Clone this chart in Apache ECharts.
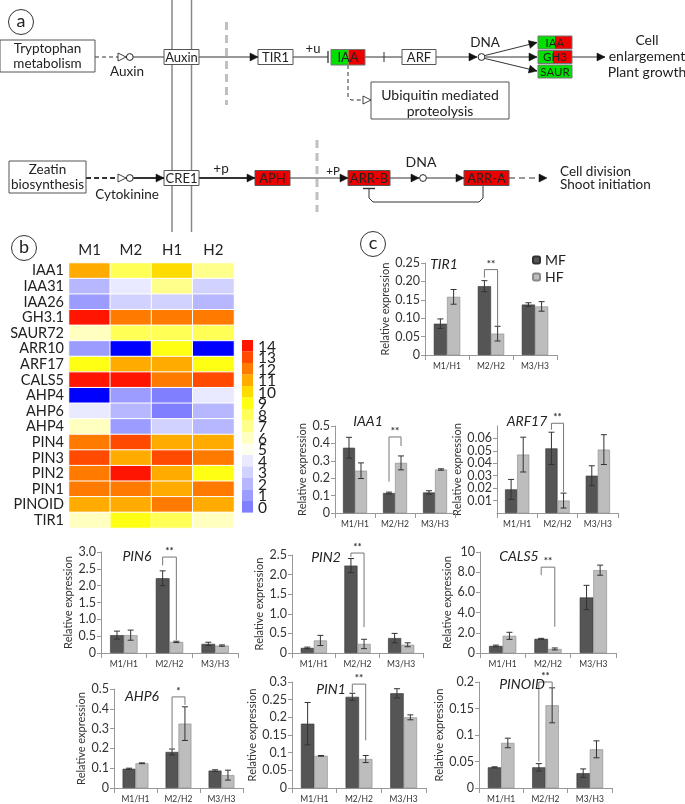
<!DOCTYPE html>
<html><head><meta charset="utf-8">
<script src="https://cdn.jsdelivr.net/npm/echarts@6/dist/echarts.min.js"></script>
<style>html,body{margin:0;padding:0;background:#fff}#c{width:685px;height:804px}</style>
</head><body><div id="c"></div>
<script>
// ---------- DATA ----------
const hmCols = ['M1','M2','H1','H2'];
const hmRows = ['IAA1','IAA31','IAA26','GH3.1','SAUR72','ARR10','ARF17','CALS5','AHP4','AHP6','AHP4','PIN4','PIN3','PIN2','PIN1','PINOID','TIR1'];
// value per row for M1, M2, H1, H2 (-1 = below scale, shown blue)
const hmIAA1   = [11, 8, 10, 7];
const hmIAA31  = [2, 4, 7, 3];
const hmIAA26  = [1, 3, 3, 2];
const hmGH31   = [14, 12, 12, 12];
const hmSAUR72 = [6, 8, 8, 8];
const hmARR10  = [1, -1, 9, -1];
const hmARF17  = [9, 11, 11, 9];
const hmCALS5  = [14, 14, 12, 13];
const hmAHP4a  = [-1, 1, 0, 4];
const hmAHP6   = [4, 2, 0, 2];
const hmAHP4b  = [6, 1, 3, 2];
const hmPIN4   = [12, 13, 11, 11];
const hmPIN3   = [13, 11, 13, 12];
const hmPIN2   = [12, 14, 11, 9];
const hmPIN1   = [12, 12, 11, 12];
const hmPINOID = [11, 11, 12, 11];
const hmTIR1   = [6, 9, 8, 6];
const hmValues = [hmIAA1,hmIAA31,hmIAA26,hmGH31,hmSAUR72,hmARR10,hmARF17,hmCALS5,hmAHP4a,hmAHP6,hmAHP4b,hmPIN4,hmPIN3,hmPIN2,hmPIN1,hmPINOID,hmTIR1];
const scaleLabels = ['14','13','12','11','10','9','8','7','6','5','4','3','2','1','0'];

const groups = ['M1/H1','M2/H2','M3/H3'];
const tir1MF=[0.085,0.187,0.137], tir1MFErr=[0.013,0.015,0.005], tir1HF=[0.158,0.058,0.132], tir1HFErr=[0.02,0.02,0.013];
const tir1Sig=[1,0.21,0.078,0.232], tir1Stars='**';
const iaa1MF=[0.375,0.115,0.118], iaa1MFErr=[0.06,0.005,0.01], iaa1HF=[0.243,0.288,0.25], iaa1HFErr=[0.045,0.04,0.004];
const iaa1Sig=[1,0.18,0.385,0.437], iaa1Stars='**';
const arf17MF=[0.019,0.052,0.030], arf17MFErr=[0.008,0.013,0.008], arf17HF=[0.047,0.010,0.051], arf17HFErr=[0.014,0.006,0.012];
const arf17Sig=[1,0.067,0.017,0.0722], arf17Stars='**';
const pin6MF=[0.53,2.22,0.27], pin6MFErr=[0.12,0.22,0.05], pin6HF=[0.53,0.33,0.22], pin6HFErr=[0.15,0.02,0.02];
const pin6Sig=[1,2.6,0.38,2.85], pin6Stars='**';
const pin2MF=[0.13,2.23,0.38], pin2MFErr=[0.02,0.18,0.12], pin2HF=[0.32,0.23,0.21], pin2HFErr=[0.13,0.12,0.05];
const pin2Sig=[1,2.45,0.66,2.55], pin2Stars='**';
const cals5MF=[0.7,1.4,5.5], cals5MFErr=[0.08,0.05,1.2], cals5HF=[1.7,0.4,8.2], cals5HFErr=[0.35,0.1,0.5];
const cals5Sig=[1,7.7,2.6,8.5], cals5Stars='**';
const ahp6MF=[0.097,0.182,0.088], ahp6MFErr=[0.003,0.015,0.004], ahp6HF=[0.125,0.325,0.065], ahp6HFErr=[0.002,0.085,0.025];
const ahp6Sig=[1,0.2,0.42,0.46], ahp6Stars='*';
const pin1MF=[0.182,0.258,0.268], pin1MFErr=[0.06,0.01,0.013], pin1HF=[0.091,0.082,0.200], pin1HFErr=[0.001,0.01,0.007];
const pin1Sig=[1,0.27,0.135,0.294], pin1Stars='**';
const pinoidMF=[0.039,0.039,0.028], pinoidMFErr=[0.001,0.007,0.008], pinoidHF=[0.085,0.156,0.073], pinoidHFErr=[0.009,0.033,0.016];
const pinoidSig=[1,0.05,0.19,0.2], pinoidStars='**';

// ---------- LAYOUT / STYLE ----------
const FONT = 'Lato, "Open Sans", sans-serif';
const scaleColors = ['#ff1500','#ff4a00','#ff7b00','#ffab00','#ffdc00','#ffff14','#ffff55','#ffff8c','#ffffc0','#fffff0','#e9e9ff','#d2d2ff','#b7b7ff','#9c9cff','#7f7fff'];

const charts = [
  {t:'TIR1', mf:tir1MF, mfe:tir1MFErr, hf:tir1HF, hfe:tir1HFErr, sig:tir1Sig, st:tir1Stars, max:0.25, iv:0.05, fmt:'f2', box:[425,263,132,92], tp:[444,264]},
  {t:'IAA1', mf:iaa1MF, mfe:iaa1MFErr, hf:iaa1HF, hfe:iaa1HFErr, sig:iaa1Sig, st:iaa1Stars, max:0.5, iv:0.1, fmt:'f1', box:[335,426,120,87], tp:[368,421]},
  {t:'ARF17', mf:arf17MF, mfe:arf17MFErr, hf:arf17HF, hfe:arf17HFErr, sig:arf17Sig, st:arf17Stars, max:0.07, iv:0.01, fmt:'f2', box:[497,426,121,87], tp:[527,421]},
  {t:'PIN6', mf:pin6MF, mfe:pin6MFErr, hf:pin6HF, hfe:pin6HFErr, sig:pin6Sig, st:pin6Stars, max:3, iv:0.5, fmt:'f1', box:[101,552,137,101], tp:[137,556]},
  {t:'PIN2', mf:pin2MF, mfe:pin2MFErr, hf:pin2HF, hfe:pin2HFErr, sig:pin2Sig, st:pin2Stars, max:2.5, iv:0.5, fmt:'f1', box:[292,555,131,98], tp:[326,557]},
  {t:'CALS5', mf:cals5MF, mfe:cals5MFErr, hf:cals5HF, hfe:cals5HFErr, sig:cals5Sig, st:cals5Stars, max:10, iv:2, fmt:'c', box:[480,552,136,101], tp:[519,556]},
  {t:'AHP6', mf:ahp6MF, mfe:ahp6MFErr, hf:ahp6HF, hfe:ahp6HFErr, sig:ahp6Sig, st:ahp6Stars, max:0.5, iv:0.1, fmt:'f1', box:[114,689,129,99], tp:[142,696]},
  {t:'PIN1', mf:pin1MF, mfe:pin1MFErr, hf:pin1HF, hfe:pin1HFErr, sig:pin1Sig, st:pin1Stars, max:0.3, iv:0.05, fmt:'trim', box:[292,682,134,106], tp:[331,689]},
  {t:'PINOID', mf:pinoidMF, mfe:pinoidMFErr, hf:pinoidHF, hfe:pinoidHFErr, sig:pinoidSig, st:pinoidStars, max:0.2, iv:0.05, fmt:'trim', box:[479,682,133,106], tp:[522,684]}
];
function fmtFn(kind){
  return function(v){
    if (Math.abs(v) < 1e-9) return '0';
    if (kind==='f2') return v.toFixed(2);
    if (kind==='f1') return v.toFixed(1);
    if (kind==='c') return Math.abs(v-10)<1e-9 ? '10' : v.toFixed(1);
    return String(parseFloat(v.toFixed(3)));
  };
}

// ---------- GRAPHIC (panel a diagram, panel letters, titles, colour key) ----------
const G = [];
const INK = '#222';
function txt(x,y,t,size,align,extra){
  G.push({type:'text', x:x, y:y, z:10, silent:true, style:Object.assign({text:t, font:(size||13)+'px '+FONT, fill:INK, align:align||'center', verticalAlign:'middle', textAlign:align||'center', textVerticalAlign:'middle'}, extra||{})});
}
function box(x,y,w,h,fill,label,size){
  G.push({type:'rect', z:5, silent:true, shape:{x:x,y:y,width:w,height:h}, style:{fill:fill||'#fff', stroke:'#555', lineWidth:1}});
  if(label) txt(x+w/2, y+h/2+0.5, label, size||13);
}
function splitBox(x,y,w,h,split,label,size){
  G.push({type:'rect', z:5, silent:true, shape:{x:x,y:y,width:split,height:h}, style:{fill:'#00e000', stroke:null}});
  G.push({type:'rect', z:5, silent:true, shape:{x:x+split,y:y,width:w-split,height:h}, style:{fill:'#ee0000', stroke:null}});
  G.push({type:'rect', z:6, silent:true, shape:{x:x,y:y,width:w,height:h}, style:{fill:null, stroke:'#777', lineWidth:1}});
  if(label) txt(x+w/2, y+h/2+0.5, label, size||13);
}
function line(pts,w,dash,color){
  G.push({type:'polyline', z:4, silent:true, shape:{points:pts}, style:{stroke:color||'#333', lineWidth:w||1, lineDash:dash||null, fill:null}});
}
function head(x1,y1,x2,y2,open){
  const a = Math.atan2(y2-y1,x2-x1), L=8, W=4;
  const bx = x2-L*Math.cos(a), by = y2-L*Math.sin(a);
  const p1=[bx+W*Math.sin(a), by-W*Math.cos(a)], p2=[bx-W*Math.sin(a), by+W*Math.cos(a)];
  G.push({type:'polygon', z:6, silent:true, shape:{points:[p1,[x2,y2],p2]}, style:{fill:open?'#fff':'#111', stroke:'#111', lineWidth:open?0.8:0.5}});
}
function arrow(x1,y1,x2,y2,w,dash){ line([[x1,y1],[x2,y2]],w,dash); head(x1,y1,x2,y2,false); }
function circ(cx,cy,r,fill,stroke,lw){ G.push({type:'circle', z:6, silent:true, shape:{cx:cx,cy:cy,r:r}, style:{fill:fill||'#fff', stroke:stroke||'#222', lineWidth:lw||1}}); }

// membrane double line
line([[172,0],[172,232]],1.5,null,'#888');
line([[191.5,0],[191.5,232]],1.5,null,'#888');
// gray dashed separators
line([[226.5,22],[226.5,105]],3,[8,5],'#c0c0c0');
line([[317,140],[317,212]],3,[8,5],'#c0c0c0');
// panel letter a
circ(21,22,12.5,'#fff','#333',1); txt(21,21,'a',18);

// ---- row 1 (auxin) ----
const r1 = 57;
box(0,40,95,32,'#fff'); txt(47.5,49,'Tryptophan',13.5); txt(47.5,64,'metabolism',13.5);
line([[95,r1],[119,r1]],1,[4,3]); head(119,r1,126,r1,true); circ(129.8,r1,3.4);
line([[133.2,r1],[164,r1]],1);
txt(127,72,'Auxin',13.5);
box(164,49.5,35,15,'#fff','Auxin',13);
arrow(199,r1,258,r1,1);
box(258,49.5,35,15,'#fff','TIR1',13);
line([[293,r1],[328,r1]],1); line([[328,51],[328,63]],1.3);
txt(313,49,'+u',13);
splitBox(331,49.5,34,15.5,17.5,'IAA',13);
line([[365,r1],[402,r1]],1); line([[384,52],[384,62]],1);
box(402,49.5,34,15,'#fff','ARF',13);
arrow(436,r1,477,r1,1); circ(481.5,r1,3.4);
txt(485,43,'DNA',13.5);
arrow(485,r1-1.5,537,42.5,1); arrow(485.5,r1,537,r1,1); arrow(485,r1+1.5,537,71,1);
splitBox(538,36,34,13,17,'IAA',11.5);
splitBox(538,50.5,34,13,15,'GH3',11.5);
splitBox(538,65,34,13,34,'SAUR',11.5);
arrow(572,r1,605,r1,1);
txt(647,40,'Cell',14); txt(647,56,'enlargement',14); txt(647,72,'Plant growth',14);
line([[348,65],[348,97],[351,100],[364,100]],1,[4,3]); head(356,100,371,100,true);
box(371,82,138,37,'#fff'); txt(440,95,'Ubiquitin mediated',14); txt(440,111,'proteolysis',14);

// ---- row 2 (cytokinin) ----
const r2 = 178;
box(9,161,77,32,'#fff'); txt(47.5,170,'Zeatin',13.5); txt(47.5,185,'biosynthesis',13.5);
line([[86,r2],[119,r2]],2,[5,3]); head(119,r2,126,r2,true); circ(129.8,r2,3.4);
arrow(133.2,r2,164,r2,2);
txt(127,195,'Cytokinine',13.5);
box(164,170.5,35,15,'#fff','CRE1',13);
arrow(199,r2,255,r2,2);
txt(221,169,'+p',13.5);
box(255,170.5,35,15,'#ee0000','APH',13);
arrow(290,r2,348,r2,1);
txt(333,171,'+P',11.5);
box(348,170.5,42,15,'#ee0000','ARR-B',13);
arrow(390,r2,419,r2,1); circ(423,r2,3.4);
txt(421,162,'DNA',14);
arrow(426.5,r2,464,r2,1);
box(464,170.5,45,15,'#ee0000','ARR-A',13);
arrow(509,r2,547,r2,1,[6,4]);
txt(560,172,'Cell division',13.5,'left'); txt(560,185,'Shoot initiation',13.5,'left');
line([[483,186],[483,198],[479,202],[373,202],[369,198],[369,189]],1);
line([[363,188.5],[375,188.5]],1.4);

// panel letters b, c
circ(24,248,12.5,'#fff','#333',1); txt(24,247,'b',18);
circ(373,244,12.5,'#fff','#333',1); txt(373,243,'c',18);

// colour key for the heatmap
scaleLabels.forEach((l,i)=>{
  G.push({type:'rect', z:5, silent:true, shape:{x:242,y:340+i*11.5,width:11,height:11.6}, style:{fill:scaleColors[i], stroke:null}});
  txt(258,340+i*11.5+6.5,l,15.5,'left');
});

// chart titles
charts.forEach(c=>txt(c.tp[0],c.tp[1],c.t,14,'center',{font:'italic 14px '+FONT}));

// ---------- OPTION ----------
const grid=[], xAxis=[], yAxis=[], series=[];
// heatmap grid (index 0)
grid.push({left:69, top:263, width:165, height:265});
xAxis.push({type:'category', gridIndex:0, position:'top', data:hmCols, axisLine:{show:false}, axisTick:{show:false}, axisLabel:{fontSize:15, color:'#222', fontFamily:FONT, margin:5}});
yAxis.push({type:'category', gridIndex:0, inverse:true, data:hmRows, axisLine:{show:false}, axisTick:{show:false}, axisLabel:{interval:0, fontSize:14.5, color:'#222', fontFamily:FONT, margin:5}});
const hmData=[];
hmValues.forEach((row,ri)=>row.forEach((v,ci)=>hmData.push([ci,ri,v])));
series.push({type:'heatmap', xAxisIndex:0, yAxisIndex:0, data:hmData, itemStyle:{borderColor:'#fff', borderWidth:1}, emphasis:{disabled:true}});

charts.forEach((c,i)=>{
  const gi=i+1;
  grid.push({left:c.box[0], top:c.box[1], width:c.box[2], height:c.box[3]});
  xAxis.push({type:'category', gridIndex:gi, data:groups,
    axisLine:{lineStyle:{color:'#999'}}, axisTick:{show:true, length:5, lineStyle:{color:'#999'}},
    axisLabel:{fontSize:8.5, color:'#333', fontFamily:FONT, margin:7}});
  yAxis.push({type:'value', gridIndex:gi, min:0, max:c.max, interval:c.iv,
    name:'Relative expression', nameLocation:'middle', nameGap:c.fmt==='f1'||c.fmt==='c'?27:33,
    nameTextStyle:{fontSize:11, color:'#333', fontFamily:FONT},
    axisLine:{show:true, lineStyle:{color:'#999'}}, axisTick:{show:true, length:4, lineStyle:{color:'#999'}},
    splitLine:{show:false},
    axisLabel:{fontSize:12.5, color:'#333', fontFamily:FONT, margin:5, formatter:fmtFn(c.fmt)}});
  const common={xAxisIndex:gi, yAxisIndex:gi, barWidth:'30%', barGap:'0%', silent:true};
  series.push(Object.assign({type:'bar', name:'MF', data:c.mf, itemStyle:{color:'#555555', borderColor:'#333', borderWidth:0.6}}, common));
  series.push(Object.assign({type:'bar', name:'HF', data:c.hf, itemStyle:{color:'#bdbdbd', borderColor:'#8a8a8a', borderWidth:0.6}}, common));
  const errData=[];
  c.mf.forEach((v,k)=>errData.push([k,v,c.mfe[k],-1]));
  c.hf.forEach((v,k)=>errData.push([k,v,c.hfe[k],1]));
  series.push({type:'custom', xAxisIndex:gi, yAxisIndex:gi, data:errData, clip:false, silent:true, z:5,
    encode:{x:0,y:1},
    renderItem:function(params,api){
      const k=api.value(0), v=api.value(1), e=api.value(2), side=api.value(3);
      const bw=api.size([1,0])[0]*0.3;
      const x=api.coord([k,v])[0]+side*bw/2;
      const yt=api.coord([k,v+e])[1], yb=api.coord([k,v-e])[1];
      const cap=3, st={stroke:'#333', lineWidth:1};
      return {type:'group', children:[
        {type:'line', shape:{x1:x,y1:yt,x2:x,y2:yb}, style:st},
        {type:'line', shape:{x1:x-cap,y1:yt,x2:x+cap,y2:yt}, style:st},
        {type:'line', shape:{x1:x-cap,y1:yb,x2:x+cap,y2:yb}, style:st}]};
    }});
  series.push({type:'custom', xAxisIndex:gi, yAxisIndex:gi, data:[c.sig], clip:false, silent:true, z:6,
    encode:{x:0,y:3},
    renderItem:function(params,api){
      const k=api.value(0), lb=api.value(1), rb=api.value(2), tp=api.value(3);
      const bw=api.size([1,0])[0]*0.3;
      const cx=api.coord([k,tp])[0];
      const xl=cx-bw/2, xr=cx+bw/2;
      const yt=api.coord([k,tp])[1], yl=api.coord([k,lb])[1], yr=api.coord([k,rb])[1];
      const st={stroke:'#777', lineWidth:1, fill:null};
      return {type:'group', children:[
        {type:'polyline', shape:{points:[[xl,yl],[xl,yt],[xr,yt],[xr,yr]]}, style:st},
        {type:'text', style:{text:c.st, x:cx, y:yt-1, align:'center', verticalAlign:'bottom', font:'bold 10px '+FONT, fill:'#333'}}]};
    }});
});

const option = {
  animation:false,
  textStyle:{fontFamily:FONT},
  grid:grid, xAxis:xAxis, yAxis:yAxis, series:series,
  visualMap:{type:'piecewise', show:false, seriesIndex:0,
    pieces:scaleLabels.map((l,i)=>({value:Number(l), label:l, color:scaleColors[i]})),
    outOfRange:{color:'#0000ff'}},
  legend:{data:['MF','HF'], left:527, top:248, orient:'vertical', itemWidth:7, itemHeight:7, itemGap:3,
    selectedMode:false, textStyle:{fontSize:14, color:'#222', fontFamily:FONT}},
  graphic:{elements:G}
};
const chart = echarts.init(document.getElementById('c'), null, {renderer:'canvas'});
chart.setOption(option);
</script></body></html>
